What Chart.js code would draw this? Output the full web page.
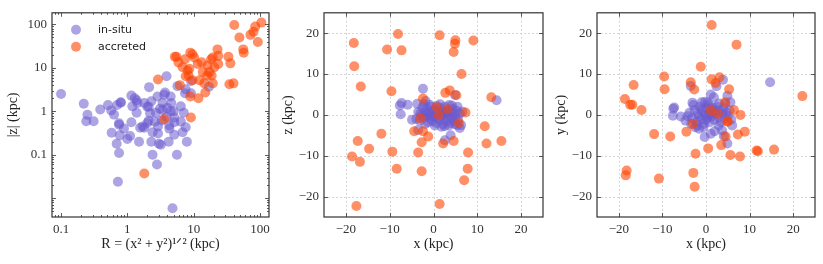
<!DOCTYPE html>
<html>
<head>
<meta charset="utf-8">
<script src="https://cdn.jsdelivr.net/npm/chart.js@4"></script>
<style>
html, body { margin: 0; padding: 0; background: #fff; }
#wrap { position: relative; width: 823px; height: 264px; overflow: hidden; }
canvas { position: absolute; top: 0; }
</style>
</head>
<body>
<div id="wrap">
    <canvas id="panelR" width="275" height="264" style="left:0px"></canvas>
    <canvas id="panelXZ" width="275" height="264" style="left:275px"></canvas>
    <canvas id="panelXY" width="275" height="264" style="left:548px"></canvas>
</div>
<script>
// Panel 1: R (kpc) vs |z| (kpc), log-log
const insituR = [0.10, 0.22, 0.25, 0.24, 0.31, 0.39, 0.51, 0.57, 0.63, 0.70, 0.79, 0.80, 0.58, 0.75, 0.75, 0.89, 0.77, 0.69, 0.75, 0.72,
    1.0, 1.1, 1.15, 1.29, 1.19, 1.15, 1.38, 1.42, 1.38, 1.56, 1.5, 1.8, 1.8, 2.0, 2.1, 2.13, 2.0, 2.1, 2.3, 2.4, 2.3, 2.4, 2.6, 2.7,
    2.8, 2.85, 2.9, 2.9, 3.0, 3.2, 3.1, 3.4, 3.4, 3.6, 3.7, 3.9, 3.9, 4.0, 4.2, 4.3, 4.3, 4.5, 4.6, 4.8, 5.0, 5.1, 5.1, 5.6, 5.7,
    6.4, 6.4, 6.8, 7.1, 7.4, 7.6, 7.9, 7.6, 9.1, 9.1, 17, 5.1, 4.5, 3.3, 2.2, 1.7];
const insituAbsZ = [2.5, 1.5, 0.83, 0.59, 0.59, 1.1, 1.39, 1.05, 0.84, 1.4, 1.6, 1.6, 0.32, 0.49, 0.53, 0.40, 0.28, 0.18, 0.11, 0.024,
    0.23, 0.27, 2.3, 2.0, 1.3, 0.56, 1.8, 1.56, 0.93, 0.42, 0.2, 1.56, 0.42, 0.54, 0.61, 3.6, 1.27, 1.27, 1.7, 0.33, 0.2, 0.1, 0.58, 0.93,
    0.06, 2.2, 0.31, 0.45, 0.18, 0.17, 1.15, 1.07, 1.56, 2.4, 2.7, 6.4, 0.75, 1.2, 0.2, 0.47, 0.4, 2.2, 1.56, 0.0059, 1.0, 0.29, 0.56, 0.1, 3.8,
    1.3, 0.58, 0.33, 0.93, 2.6, 0.43, 0.2, 3.2, 5.0, 2.6, 3.7, 0.72, 1.0, 0.62, 0.9, 0.45];
const accretedR = [2.9, 3.6, 1.8, 5.2, 5.5, 5.9, 6.2, 6.8, 7.4, 7.6, 8.1, 8.6, 8.4, 8.9, 9.6, 8.9, 9.1, 9.6, 10.2, 11.8, 11.5, 12.2,
    13.2, 13.7, 14.5, 15, 16, 16.3, 17.3, 18.3, 18.7, 19.4, 19.4, 20.5, 22.9, 23.5, 23.5, 33.5, 35.8, 34.6, 39.9, 41, 49, 56, 57,
    72, 80, 85, 105, 93];
const accretedAbsZ = [5.4, 0.66, 0.037, 18, 18, 13.4, 4.0, 10.3, 15.8, 6.4, 8.7, 9.5, 6.7, 22.4, 20.6, 2.2, 0.72, 5.2, 17.4, 2.0, 12.3, 5.2,
    13.4, 8.0, 4.4, 2.7, 6.7, 11.3, 8.0, 15.8, 6.7, 17.4, 4.4, 10.3, 26.6, 12.3, 18.9, 18, 12.7, 4.2, 4.4, 97, 50, 26.6, 22.4,
    57.5, 68, 89, 110, 39.5];

// Panel 2: x (kpc) vs z (kpc)
const insituXzX = [-2.4, -1.8, -7.3, -7.7, -5.9, -7.5, -3.7, -3.5, -4.9, 14.4, 4.9, 3.9, 2.6, 6.0, -3.5, 5.4,
    -3.9, -3.1, -2.5, -2.0, -2.2, -1.6, -1.5, -1.2, -1.0, -0.8, -0.5, -0.4, -0.2, 0.0, 0.2, 0.4, 0.6, 0.8, 1.0, 1.2, 1.4, 1.6,
    1.8, 2.0, 2.2, 2.4, 2.6, 2.8, 3.0, 3.2, 3.4, 3.6, 3.8, 4.0, 4.2, 4.4, 4.6, 4.8, 5.0, 5.3, 5.6, 6.0, 6.3, 6.6, -2.8, -1.9,
    -0.9, 0.3, 1.5, 2.5, 3.5, 4.2, -3.0, -0.6, 0.9, 2.1, 3.1, -1.3, 5.5, 4.8, -2.2, 1.8];
const insituXzZ = [6.4, 3.4, 2.9, 2.3, 2.5, 0.15, 2.7, 0.7, -1.2, 3.6, 4.9, -5.0, -6.2, -3.2, -3.7, -2.5,
    -1.0, -1.4, 1.8, 0.5, -0.6, 1.7, -0.2, -1.8, 0.8, -0.9, 2.0, 0.1, -1.5, 1.2, -0.4, 0.6, -2.0, 2.2, -0.8, 0.4, -1.2, 1.6,
    -0.2, 0.9, -2.2, -0.6, 2.0, 0.3, -1.4, 1.0, -0.3, 2.4, -2.0, 0.6, -0.8, 1.5, -1.5, 0.2, -0.6, 1.0, -1.2, 0.3, -2.5, 0.8, -0.2, -2.2,
    2.5, -2.6, 2.6, -2.8, -2.6, 2.3, 0.4, -0.3, 0.0, 0.2, 0.5, 0.3, 2.0, -2.2, 2.6, -2.9];
const accretedXzX = [-18.2, -8.1, 1.4, 5.0, 4.9, 4.6, 9.1, -10.6, -7.3, -18.1, 6.4, -16.6, -9.6, 3.7, 2.7, 5.2, 13.2, -2.4,
    0.7, 3.2, 1.2, 7.3, -3.0, 5.8, -4.4, -2.4, -1.2, 11.7, -17.3, -11.9, -14.7, -2.7, 2.2, 4.6, 12.1, 15.5, -18.6, -16.8,
    -9.4, -3.5, 7.9, -8.4, -2.7, 7.8, 7.0, -17.6, 1.4];
const accretedXzZ = [17.6, 19.8, 19.5, 18.3, 17.4, 15.4, 18.2, 16.0, 15.8, 11.9, 10.0, 6.96, 5.8, 6.0, 5.4, 4.8, 4.3, 4.0,
    1.9, 1.4, -0.1, 0.6, -0.8, -2.0, -4.0, -4.0, -5.3, -2.8, -6.4, -4.6, -8.3, -6.7, -7.0, -6.4, -7.0, -6.4, -10.2, -11.5,
    -9.0, -9.2, -9.2, -13.2, -13.8, -13.2, -16.0, -22.3, -21.8];

// Panel 3: x (kpc) vs y (kpc)
const insituXyX = [14.7, 3.9, 2.4, -3.5, 1.1, 1.8, 4.9, 5.6, -7.5, -7.6, -3.1, -1.0, -0.2, -5.8, -4.7, 3.7, 4.1, 4.9, 6.0,
    -0.3, 1.1, -1.6, -7.3, 2.0, -2.5,
    -3.8, -3.2, -2.6, -2.2, -1.8, -1.4, -1.1, -0.8, -0.5, -0.2, 0.1, 0.3, 0.6, 0.8, 1.0, 1.3, 1.6, 1.9, 2.2, 2.5, 2.8, 3.1,
    3.4, 3.7, 4.0, 4.3, 4.6, 5.0, 5.4, 5.8, -2.9, -0.6, 0.4, 2.9, -3.4, -1.6, 0.0, 1.4, -4.2, 2.0, 3.0, -1.0, 0.7, -2.0, 4.4];
const insituXyY = [8.0, 8.6, 7.0, 7.1, 5.0, 4.3, 4.7, 3.1, 1.5, -0.2, 3.0, 3.1, 3.2, -0.4, -1.4, -3.8, -5.2, -7.0, -2.6,
    -5.4, -4.6, -3.4, 1.8, -4.0, -3.0,
    0.5, -0.8, 1.2, -1.6, 0.2, 2.0, -1.0, 0.9, -2.2, 0.0, 1.6, -0.7, 2.4, -1.8, 0.5, -0.4, 1.3, -1.2, 0.2, 2.0, -0.6, 1.0,
    -1.8, 0.4, 1.6, -0.9, 0.6, -0.3, 1.1, -1.1, 2.4, -3.0, 3.0, -2.6, -2.2, -0.4, -1.2, 1.9, -0.3, 0.9, 2.8, 1.4, 0.1, -2.6, 2.8];
const accretedXyX = [1.3, 7.0, -1.2, -9.6, -9.5, -16.6, -18.6, -17.4, -16.9, -14.8, -3.5, -2.7, 1.3, 3.1, 2.2, 5.3, 4.4,
    6.4, 1.1, 2.7, 7.9, 22.1, -3.0, 4.9, 5.0, 8.9, 7.3, 4.5, 3.5, 0.5, -11.9, -8.2, -4.5, -2.4, 5.6, 7.8, 11.6, 11.9, 15.6,
    -18.2, -18.4, -10.8, -2.9, -2.6];
const accretedXyY = [22.0, 17.2, 11.8, 9.4, 6.3, 7.3, 3.9, 2.5, 2.5, 1.2, 8.0, 6.2, 8.7, 9.2, 7.8, 6.3, 3.1,
    1.2, 1.1, 0.3, 0.0, 4.6, -2.2, -1.6, -1.6, -4.1, -4.8, -5.3, -7.4, -8.2, -4.7, -5.3, -4.1, -9.5, -9.8, -10.2, -8.7, -8.9, -8.5,
    -13.6, -14.8, -15.6, -14.2, -17.6];

// Tick labels
const logTickLabels = [0.1, 1, 10, 100];
const linTicks = [-20, -10, 0, 10, 20];

const serif = 'Liberation Serif';
const inkColor = '#333';

function toPoints(xs, ys) {
    return xs.map((v, i) => ({ x: v, y: ys[i] }));
}

function makeDatasets(inX, inY, acX, acY) {
    return [
        { label: 'in-situ', data: toPoints(inX, inY), backgroundColor: 'rgba(106,90,205,0.55)',
          borderWidth: 0, pointRadius: 5, pointHoverRadius: 5, order: 1 },
        { label: 'accreted', data: toPoints(acX, acY), backgroundColor: 'rgba(255,69,0,0.6)',
          borderWidth: 0, pointRadius: 5, pointHoverRadius: 5, order: 0 }
    ];
}

function isDecade(v) {
    const l = Math.log10(v);
    return Math.abs(l - Math.round(l)) < 1e-6;
}

function isWholeMantissa(v) {
    const m = v / Math.pow(10, Math.floor(Math.log10(v) + 1e-9));
    return Math.abs(m - Math.round(m)) < 1e-6;
}

// Rahmen, Gitter und nach innen zeigende Ticks
const frameTicks = {
    id: 'frameTicks',
    beforeDatasetsDraw(chart, args, opts) {
        if (!opts.grid) return;
        const { ctx, chartArea: a, scales: { x, y } } = chart;
        ctx.save();
        ctx.strokeStyle = '#cccccc';
        ctx.lineWidth = 0.8;
        ctx.setLineDash([2, 2]);
        x.ticks.forEach(t => {
            const px = Math.round(x.getPixelForValue(t.value)) + 0.5;
            ctx.beginPath(); ctx.moveTo(px, a.top); ctx.lineTo(px, a.bottom); ctx.stroke();
        });
        y.ticks.forEach(t => {
            const py = Math.round(y.getPixelForValue(t.value)) + 0.5;
            ctx.beginPath(); ctx.moveTo(a.left, py); ctx.lineTo(a.right, py); ctx.stroke();
        });
        ctx.restore();
    },
    afterDraw(chart) {
        const { ctx, chartArea: a, scales: { x, y } } = chart;
        ctx.save();
        ctx.strokeStyle = inkColor;
        ctx.lineWidth = 0.8;
        const tickLen = (scale, v) => {
            if (scale.type !== 'logarithmic') return 4;
            if (!isWholeMantissa(v)) return 0;
            return isDecade(v) ? 4 : 2;
        };
        x.ticks.forEach(t => {
            const len = tickLen(x, t.value);
            if (!len) return;
            const px = Math.round(x.getPixelForValue(t.value)) + 0.5;
            ctx.beginPath();
            ctx.moveTo(px, a.bottom); ctx.lineTo(px, a.bottom - len);
            ctx.moveTo(px, a.top); ctx.lineTo(px, a.top + len);
            ctx.stroke();
        });
        y.ticks.forEach(t => {
            const len = tickLen(y, t.value);
            if (!len) return;
            const py = Math.round(y.getPixelForValue(t.value)) + 0.5;
            ctx.beginPath();
            ctx.moveTo(a.left, py); ctx.lineTo(a.left + len, py);
            ctx.moveTo(a.right, py); ctx.lineTo(a.right - len, py);
            ctx.stroke();
        });
        ctx.lineWidth = 1.2;
        ctx.strokeRect(a.left, a.top, a.right - a.left, a.bottom - a.top);
        ctx.restore();
    }
};

// Legende im ersten Panel
const cornerLegend = {
    id: 'cornerLegend',
    afterDraw(chart, args, opts) {
        if (!opts.show) return;
        const { ctx, chartArea: a } = chart;
        ctx.save();
        ctx.font = '11px "DejaVu Sans"';
        ctx.textBaseline = 'middle';
        chart.data.datasets.forEach((ds, i) => {
            const cy = a.top + 17 + i * 17;
            ctx.fillStyle = ds.backgroundColor;
            ctx.beginPath();
            ctx.arc(a.left + 24, cy, 5, 0, Math.PI * 2);
            ctx.fill();
            ctx.fillStyle = '#222';
            ctx.fillText(ds.label, a.left + 46, cy);
        });
        ctx.restore();
    }
};

function linLabel(v) {
    return v < 0 ? '\u2212' + Math.abs(v) : String(v);
}

function axisTitle(text, isX) {
    return {
        display: true,
        text: text,
        color: '#222',
        font: { family: serif, size: 14 },
        padding: isX ? { top: 0, bottom: 11 } : { top: 5, bottom: 0 }
    };
}

function makeAxis(opts) {
    const isX = opts.axis === 'x';
    const axis = {
        type: opts.type,
        min: opts.min,
        max: opts.max,
        grid: { display: false, drawTicks: false },
        border: { display: false },
        title: axisTitle(opts.title, isX),
        ticks: {
            color: inkColor,
            font: { family: serif, size: 13 },
            padding: 5,
            autoSkip: false,
            maxRotation: 0,
            callback: opts.type === 'logarithmic'
                ? (v) => (isDecade(v) && logTickLabels.some(t => Math.abs(t - v) < 1e-9) ? String(v) : '')
                : (v) => linLabel(v)
        },
        afterFit: isX ? (s) => { s.height = 47; } : (s) => { s.width = opts.width; }
    };
    if (opts.type === 'linear') {
        axis.afterBuildTicks = (s) => { s.ticks = linTicks.map(v => ({ value: v })); };
    }
    return axis;
}

function makePanel(canvasId, datasets, xAxis, yAxis, rightPad, opts) {
    const ctx = document.getElementById(canvasId).getContext('2d');
    return new Chart(ctx, {
        type: 'scatter',
        data: { datasets: datasets },
        options: {
            responsive: false,
            animation: false,
            layout: { padding: { top: 7, right: rightPad, bottom: 0, left: 0 } },
            scales: { x: xAxis, y: yAxis },
            plugins: {
                legend: { display: false },
                tooltip: { enabled: false },
                frameTicks: { grid: opts.grid },
                cornerLegend: { show: opts.legend }
            }
        },
        plugins: [frameTicks, cornerLegend]
    });
}

makePanel('panelR',
    makeDatasets(insituR, insituAbsZ, accretedR, accretedAbsZ),
    makeAxis({ axis: 'x', type: 'logarithmic', min: 0.073, max: 137, title: 'R = (x\u00b2 + y\u00b2)\u00b9\u141f\u00b2 (kpc)' }),
    makeAxis({ axis: 'y', type: 'logarithmic', min: 0.0037, max: 185, title: '|z| (kpc)', width: 52 }),
    6, { grid: false, legend: true });

makePanel('panelXZ',
    makeDatasets(insituXzX, insituXzZ, accretedXzX, accretedXzZ),
    makeAxis({ axis: 'x', type: 'linear', min: -25, max: 25, title: 'x (kpc)' }),
    makeAxis({ axis: 'y', type: 'linear', min: -25, max: 25, title: 'z (kpc)', width: 49 }),
    7, { grid: true, legend: false });

makePanel('panelXY',
    makeDatasets(insituXyX, insituXyY, accretedXyX, accretedXyY),
    makeAxis({ axis: 'x', type: 'linear', min: -25, max: 25, title: 'x (kpc)' }),
    makeAxis({ axis: 'y', type: 'linear', min: -25, max: 25, title: 'y (kpc)', width: 49 }),
    8, { grid: true, legend: false });
</script>
</body>
</html>
